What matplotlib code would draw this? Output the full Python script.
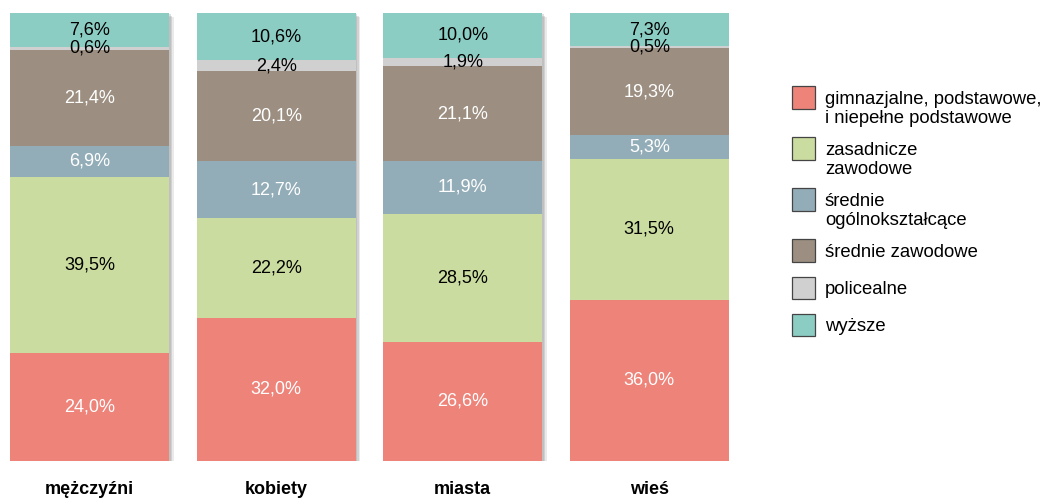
import matplotlib
matplotlib.use("Agg")
import matplotlib.pyplot as plt
import matplotlib.patheffects as pe
from matplotlib.patches import Rectangle

plt.rcParams['font.family'] = ['Liberation Sans', 'DejaVu Sans']

categories = ["mężczyźni", "kobiety", "miasta", "wieś"]
series_names = ["gimnazjalne, podstawowe,\ni niepełne podstawowe", "zasadnicze\nzawodowe",
                "średnie\nogólnokształcące", "średnie zawodowe", "policealne", "wyższe"]
gimnazjalne = [24.0, 32.0, 26.6, 36.0]
zasadnicze = [39.5, 22.2, 28.5, 31.5]
srednie_ogolne = [6.9, 12.7, 11.9, 5.3]
srednie_zawodowe = [21.4, 20.1, 21.1, 19.3]
policealne = [0.6, 2.4, 1.9, 0.5]
wyzsze = [7.6, 10.6, 10.0, 7.3]

series = [gimnazjalne, zasadnicze, srednie_ogolne, srednie_zawodowe, policealne, wyzsze]
colors = ["#EE837A", "#CADC9F", "#93ADB8", "#9C8F81", "#D0D0D0", "#8CCDC3"]
text_colors = ["white", "black", "white", "white", "black", "black"]

W, H = 1043, 500
fig = plt.figure(figsize=(W / 100, H / 100), dpi=100)
width = 0.855
ax = fig.add_axes([10 / W, 39 / H, (729 - 10) / W, (461 - 13) / H])
ax.set_xlim(-width / 2, 3 + width / 2)
ax.set_ylim(0, 100)
ax.axis("off")

x = list(range(len(categories)))
totals = [sum(s[i] for s in series) for i in range(len(categories))]
# drop shadow behind whole bars
sh = ax.bar(x, totals, width=width, color="white", edgecolor="none", zorder=0)
for b in sh:
    b.set_path_effects([
        pe.SimplePatchShadow(offset=(3, -3), shadow_rgbFace="#999999", alpha=0.2),
        pe.SimplePatchShadow(offset=(2, -2), shadow_rgbFace="#999999", alpha=0.3),
        pe.SimplePatchShadow(offset=(1, -1), shadow_rgbFace="#999999", alpha=0.3),
        pe.Normal()])

bottoms = [0.0] * len(categories)
for vals, col, tcol in zip(series, colors, text_colors):
    ax.bar(x, vals, width=width, bottom=bottoms, color=col, edgecolor="none", zorder=1)
    for i, v in enumerate(vals):
        ax.text(x[i], bottoms[i] + v / 2, f"{v:.1f}%".replace(".", ","),
                ha="center", va="center", color=tcol, fontsize=13, zorder=3)
    bottoms = [bb + v for bb, v in zip(bottoms, vals)]

for i, c in enumerate(categories):
    ax.text(x[i], -6.4, c, ha="center", va="center", fontsize=13, fontweight="bold")

# legend, drawn in figure pixel units
def fy(py):
    return 1 - py / H

y = 97.5
line_h = 19
for name, col in zip(series_names, colors):
    fig.patches.append(Rectangle((792 / W, fy(y + 11)), 23 / W, 22 / H, transform=fig.transFigure,
                                 facecolor=col, edgecolor="#444444", linewidth=0.9))
    lines = name.split("\n")
    for k, ln in enumerate(lines):
        fig.text(825 / W, fy(y + k * line_h), ln, ha="left", va="center_baseline", fontsize=13.3)
    y += 37 + 14 * (len(lines) - 1)

fig.savefig("out.png", dpi=100)
